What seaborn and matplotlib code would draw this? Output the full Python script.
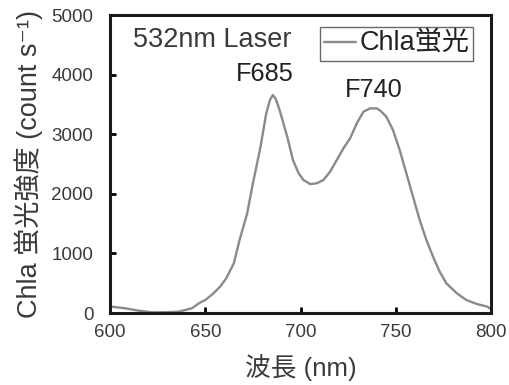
import matplotlib
matplotlib.use("Agg")
import matplotlib.pyplot as plt
import seaborn as sns
import pandas as pd

# Chl a fluorescence spectrum under 532 nm excitation
wavelength = [600, 601, 608, 615, 622, 629, 636, 643, 647, 650, 654, 658, 661, 665,
              668, 672, 675, 679, 682, 684, 685.5, 687, 689, 693, 696, 699, 701.5,
              705, 708.5, 712, 715.5, 719, 722.5, 726, 729.5, 733, 736.5, 740,
              742, 745, 748.5, 752, 755.5, 759, 762.5, 766, 769.5, 773, 776.5,
              782, 787, 792.5, 798, 800]
intensity = [110, 106, 79, 39, 12, 12, 22, 79, 170, 218, 320, 450, 582, 834,
             1225, 1673, 2176, 2790, 3350, 3580, 3658, 3590, 3406, 2958, 2567, 2344, 2232,
             2164, 2176, 2232, 2371, 2567, 2763, 2931, 3183, 3378, 3434, 3434,
             3390, 3294, 3070, 2735, 2344, 1951, 1560, 1225, 945, 693, 498,
             330, 218, 151, 106, 62]

series_label = "Chla蛍光"
x_ticks = [600, 650, 700, 750, 800]
y_ticks = [0, 1000, 2000, 3000, 4000, 5000]

df = pd.DataFrame({"wavelength": wavelength, "intensity": intensity})

sns.set_theme(style="white")
fonts = ["Liberation Sans", "Noto Sans CJK JP", "DejaVu Sans"]
plt.rcParams["font.family"] = fonts

text_color = "#3a3a3a"

fig = plt.figure(figsize=(5.09, 3.85), dpi=100)
ax = fig.add_axes([0.216, 0.187, 0.749, 0.774])

sns.lineplot(data=df, x="wavelength", y="intensity", ax=ax, color="#8a8a8a",
             linewidth=1.7, label=series_label)

ax.set_xlim(600, 800)
ax.set_ylim(0, 5000)
ax.set_xticks(x_ticks)
ax.set_yticks(y_ticks)
ax.tick_params(axis="both", direction="in", length=4, width=2, color="black",
               labelsize=13.5, labelcolor=text_color,
               bottom=True, left=True, top=False, right=False)
ax.tick_params(axis="x", pad=8)
ax.tick_params(axis="y", pad=12)

for side in ["left", "bottom", "top", "right"]:
    ax.spines[side].set_visible(True)
    ax.spines[side].set_color("#1a1a1a")
    ax.spines[side].set_linewidth(2.2)

ax.set_xlabel("波長 (nm)", fontsize=18.5, color=text_color, labelpad=9)
ax.set_ylabel("Chla 蛍光強度 (count s⁻¹)", fontsize=19.5, color=text_color, labelpad=6)

ax.text(612, 4580, "532nm Laser", fontsize=19.5, color=text_color, va="center", ha="left")
ax.text(681.5, 4010, "F685", fontsize=18.3, color="#222222", va="center", ha="center")
ax.text(738.5, 3740, "F740", fontsize=18.3, color="#222222", va="center", ha="center")

leg = ax.legend(loc="upper right", bbox_to_anchor=(0.953, 0.960), borderaxespad=0,
                fontsize=19.5, frameon=True, fancybox=False,
                handlelength=1.2, handletextpad=0.1, borderpad=0.15,
                labelcolor="#222222")
leg.get_frame().set_edgecolor("#444444")
leg.get_frame().set_linewidth(1.0)

fig.savefig("out.png", dpi=100)
